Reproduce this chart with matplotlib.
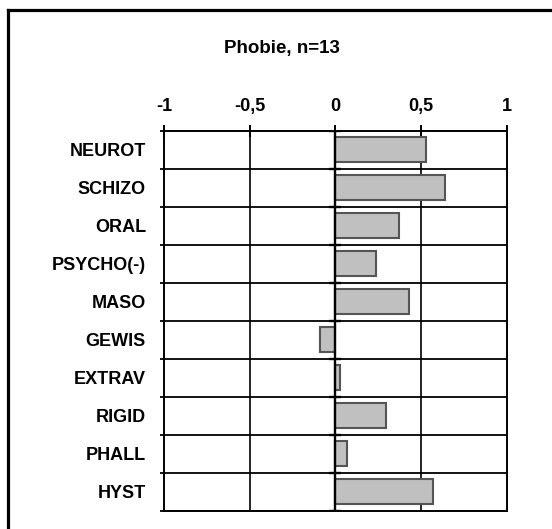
import numpy as np
import matplotlib
matplotlib.use("Agg")
import matplotlib.pyplot as plt
from matplotlib.lines import Line2D

# data
labels = ["NEUROT", "SCHIZO", "ORAL", "PSYCHO(-)", "MASO",
          "GEWIS", "EXTRAV", "RIGID", "PHALL", "HYST"]
values = [0.53, 0.64, 0.37, 0.24, 0.43, -0.09, 0.025, 0.295, 0.07, 0.57]
xticks = [-1, -0.5, 0, 0.5, 1]
xticklabels = ["-1", "-0,5", "0", "0,5", "1"]
title = "Phobie, n=13"

plt.rcParams['font.family'] = ['Liberation Sans', 'DejaVu Sans']
plt.rcParams['font.weight'] = 'bold'

W, H = 552, 529
fig = plt.figure(figsize=(W / 100, H / 100), dpi=100)
fig.patch.set_facecolor('white')

left, right, top, bottom = 164, 506.5, 131, 510.5
ax = fig.add_axes([left / W, 1 - bottom / H, (right - left) / W, (bottom - top) / H])

N = len(labels)
ind = np.arange(N)
ax.barh(ind, values, height=0.66, color='#c0c0c0', edgecolor='#555555',
        linewidth=1.5, zorder=3)

ax.set_xlim(-1, 1)
ax.set_ylim(N - 0.5, -0.5)

# grid
for xv in [-0.5, 0.5]:
    ax.axvline(xv, color='black', lw=1.2, zorder=1)
ax.axvline(0, color='black', lw=1.7, zorder=4)
bounds = np.arange(N + 1) - 0.5
for b in bounds[1:-1]:
    ax.axhline(b, color='black', lw=1.3, zorder=1)
# small cross ticks on the zero line
ax.hlines(bounds, -0.035, 0.035, color='black', lw=1.7, zorder=4)

for s in ax.spines.values():
    s.set_linewidth(1.4)

ax.xaxis.tick_top()
ax.set_xticks(xticks)
ax.set_xticklabels(xticklabels, fontsize=13, fontweight='bold')
ax.tick_params(axis='x', direction='inout', length=9, width=1.4, pad=7)

ax.set_yticks(ind)
ax.set_yticklabels(labels, fontsize=13, fontweight='bold')
ax.tick_params(axis='y', length=0, pad=13)
ax.set_yticks(bounds, minor=True)
ax.tick_params(axis='y', which='minor', direction='out', length=3, width=1.3)

fig.text(282 / W, 1 - 49 / H, title, ha='center', va='center',
         fontsize=13.5, fontweight='bold')

# outer frame (runs past the right and bottom edges)
fig.add_artist(Line2D([7.5 / W, 1.01], [1 - 9.5 / H, 1 - 9.5 / H],
                      transform=fig.transFigure, color='black', lw=2.3))
fig.add_artist(Line2D([7.5 / W, 7.5 / W], [1 - 9.5 / H, -0.01],
                      transform=fig.transFigure, color='black', lw=2.3))

fig.savefig("out.png", dpi=100, facecolor='white')
